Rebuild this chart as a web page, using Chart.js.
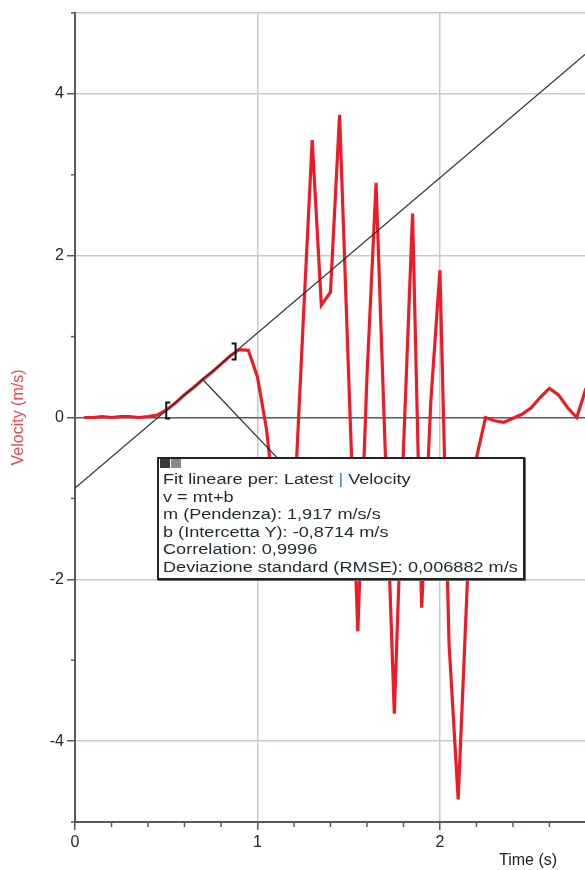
<!DOCTYPE html>
<html>
<head>
<meta charset="utf-8">
<script src="https://cdn.jsdelivr.net/npm/chart.js@4.4.1/dist/chart.umd.min.js"></script>
<style>
  html, body { margin: 0; padding: 0; background: #fff; }
  #Contenitore { position: relative; width: 585px; height: 870px; overflow: hidden; }
  #Grafico { position: absolute; left: 0; top: 0; }
  .Riquadro {
    position: absolute; left: 157px; top: 457px; width: 360px; height: 106px;
    background: #fff; border: 2px solid #222; box-shadow: 1px 1px 0 #666;
    padding: 13px 0 0 4px; box-sizing: content-box;
  }
  .Riquadro .Testo {
    font: 15.5px "Liberation Sans", Arial, sans-serif; color: #1e2a33;
    line-height: 17.5px; white-space: nowrap;
    transform: scaleX(1.17); transform-origin: 0 0;
    margin-top: -2px;
  }
  .Riquadro .Icona { position: absolute; top: 0px; width: 10px; height: 9px; }
  .Riquadro .Chiudi { left: 1px; background: #3a3a3a; }
  .Riquadro .Riduci { left: 12px; background: #8a8a8a; }
  .Barra { color: #3a7cc0; }
  .TitoloX {
    position: absolute; left: 499px; top: 851px;
    font: 16px "Liberation Sans", Arial, sans-serif; color: #222;
  }
</style>
</head>
<body>
<div id="Contenitore">
  <canvas id="Grafico" width="585" height="870"></canvas>
  <div class="Riquadro">
    <span class="Icona Chiudi"></span><span class="Icona Riduci"></span>
    <div class="Testo" id="RigheFit"></div>
  </div>
  <div class="TitoloX">Time (s)</div>
</div>
<script>
// Dati
const Tempo = [
  0.05, 0.10, 0.15, 0.20, 0.25, 0.30, 0.35, 0.40, 0.45, 0.50,
  0.55, 0.60, 0.65, 0.70, 0.75, 0.80, 0.85, 0.90, 0.95, 1.00,
  1.05, 1.10, 1.15, 1.20, 1.25, 1.30, 1.35, 1.40, 1.45, 1.50,
  1.55, 1.60, 1.65, 1.70, 1.75, 1.80, 1.85, 1.90, 1.95, 2.00,
  2.05, 2.10, 2.15, 2.20, 2.25, 2.30, 2.35, 2.40, 2.45, 2.50,
  2.55, 2.60, 2.65, 2.70, 2.75, 2.80
];
const Velocita = [
  0.00, 0.00, 0.01, 0.00, 0.01, 0.01, 0.00, 0.01, 0.03, 0.09,
  0.18, 0.28, 0.37, 0.47, 0.56, 0.66, 0.76, 0.84, 0.83, 0.50,
  -0.15, -1.20, -1.45, -1.20, 1.15, 3.43, 1.39, 1.55, 3.74, 0.50,
  -2.64, 0.50, 2.90, -0.40, -3.66, -0.40, 2.52, -2.35, 0.20, 1.82,
  -2.80, -4.72, -2.05, -0.50, 0.00, -0.04, -0.06, -0.01, 0.04, 0.12,
  0.25, 0.36, 0.28, 0.12, 0.00, 0.36
];

// Retta di fit (estremi) e linea di richiamo verso il riquadro
const FitTempo    = [0, 2.795];
const FitVelocita = [-0.8714, 4.487];
const RichiamoTempo    = [0.70, 1.107];
const RichiamoVelocita = [0.47, -0.495];

// Intervallo selezionato (parentesi)
const IntervalloTempo    = [0.50, 0.88];
const IntervalloVelocita = [0.087, 0.816];

const EtichetteY = [4, 2, 0, -2, -4];
const EtichetteX = [0, 1, 2];

const RigheFit = [
  'Fit lineare per: Latest <span class="Barra">|</span> Velocity',
  'v = mt+b',
  'm (Pendenza): 1,917 m/s/s',
  'b (Intercetta Y): -0,8714 m/s',
  'Correlation: 0,9996',
  'Deviazione standard (RMSE): 0,006882 m/s'
];
document.getElementById('RigheFit').innerHTML = RigheFit.map(R => `<div>${R}</div>`).join('');

const Punti = (Xs, Ys) => Xs.map((X, I) => ({ x: X, y: Ys[I] }));
const Intero = V => Math.abs(V - Math.round(V)) < 1e-6;

const ColoreGriglia = '#c3cbce';
const ColoreAsse    = '#555b5e';
const Font = { family: '"Liberation Sans", Arial, sans-serif', size: 16 };

const PluginMarcature = {
  id: 'Marcature',
  afterDatasetsDraw(C) {
    const Ctx = C.ctx, SX = C.scales.x, SY = C.scales.y;
    Ctx.save();
    Ctx.strokeStyle = '#111';
    Ctx.lineWidth = 2;
    IntervalloTempo.forEach((T, I) => {
      const Px = SX.getPixelForValue(T), Py = SY.getPixelForValue(IntervalloVelocita[I]);
      const Dir = I === 0 ? 1 : -1;
      Ctx.beginPath();
      Ctx.moveTo(Px + 4 * Dir, Py - 8);
      Ctx.lineTo(Px, Py - 8);
      Ctx.lineTo(Px, Py + 8);
      Ctx.lineTo(Px + 4 * Dir, Py + 8);
      Ctx.stroke();
    });
    Ctx.restore();
  },
  afterDraw(C) {
    const Ctx = C.ctx, SX = C.scales.x, SY = C.scales.y;
    const Area = C.chartArea;
    Ctx.save();
    Ctx.strokeStyle = ColoreAsse;
    Ctx.lineWidth = 1.5;
    SX.ticks.forEach(T => {
      if (Intero(T.value)) return;
      const Px = SX.getPixelForValue(T.value);
      Ctx.beginPath(); Ctx.moveTo(Px, Area.bottom); Ctx.lineTo(Px, Area.bottom + 5); Ctx.stroke();
    });
    SY.ticks.forEach(T => {
      if (Math.round(T.value) % 2 === 0) return;
      const Py = SY.getPixelForValue(T.value);
      Ctx.beginPath(); Ctx.moveTo(Area.left, Py); Ctx.lineTo(Area.left - 4, Py); Ctx.stroke();
    });
    Ctx.restore();
  }
};

new Chart(document.getElementById('Grafico').getContext('2d'), {
  type: 'scatter',
  data: {
    datasets: [
      {
        label: 'Fit',
        data: Punti(FitTempo, FitVelocita),
        showLine: true, borderColor: '#2b2f31', borderWidth: 1.2,
        pointRadius: 0, order: 0
      },
      {
        label: 'Richiamo',
        data: Punti(RichiamoTempo, RichiamoVelocita),
        showLine: true, borderColor: '#2b2f31', borderWidth: 1.2,
        pointRadius: 0, order: 0
      },
      {
        label: 'Velocity',
        data: Punti(Tempo, Velocita),
        showLine: true, borderColor: '#ec1c27', borderWidth: 3.2,
        pointRadius: 0, tension: 0, order: 1
      }
    ]
  },
  options: {
    responsive: false,
    animation: false,
    layout: { padding: { top: 13, right: 0, left: 0, bottom: 0 } },
    plugins: { legend: { display: false }, tooltip: { enabled: false } },
    scales: {
      x: {
        type: 'linear', min: 0, max: 2.795,
        afterFit: S => { S.height = 48; },
        border: { display: true, color: ColoreAsse, width: 2 },
        grid: {
          lineWidth: 1.5, tickLength: 8,
          color: Ctx => Intero(Ctx.tick.value) ? ColoreGriglia : 'rgba(0,0,0,0)',
          tickColor: Ctx => Intero(Ctx.tick.value) ? ColoreAsse : 'rgba(0,0,0,0)'
        },
        ticks: {
          stepSize: 0.2, includeBounds: false, autoSkip: false, maxRotation: 0,
          padding: 3, color: '#22282c', font: Font,
          callback: V => EtichetteX.some(E => Math.abs(E - V) < 1e-6) ? String(Math.round(V)) : ''
        }
      },
      y: {
        type: 'linear', min: -5, max: 5,
        afterFit: S => { S.width = 75; },
        border: { display: true, color: ColoreAsse, width: 2 },
        grid: {
          lineWidth: 1.5, tickLength: 8,
          color: Ctx => {
            const V = Math.round(Ctx.tick.value);
            if (V === 0) return ColoreAsse;
            return (V % 2 === 0 || Math.abs(V) === 5) ? ColoreGriglia : 'rgba(0,0,0,0)';
          },
          tickColor: Ctx => (Math.round(Ctx.tick.value) % 2 === 0) ? ColoreAsse : 'rgba(0,0,0,0)'
        },
        ticks: {
          stepSize: 1, autoSkip: false, padding: 3, color: '#22282c', font: Font,
          callback: V => EtichetteY.includes(Math.round(V)) ? String(Math.round(V)) : ''
        },
        title: {
          display: true, text: 'Velocity (m/s)', color: '#f0424c',
          font: { family: '"Liberation Sans", Arial, sans-serif', size: 16 },
          padding: { top: 9, bottom: 0 }
        }
      }
    }
  },
  plugins: [PluginMarcature]
});
</script>
</body>
</html>
